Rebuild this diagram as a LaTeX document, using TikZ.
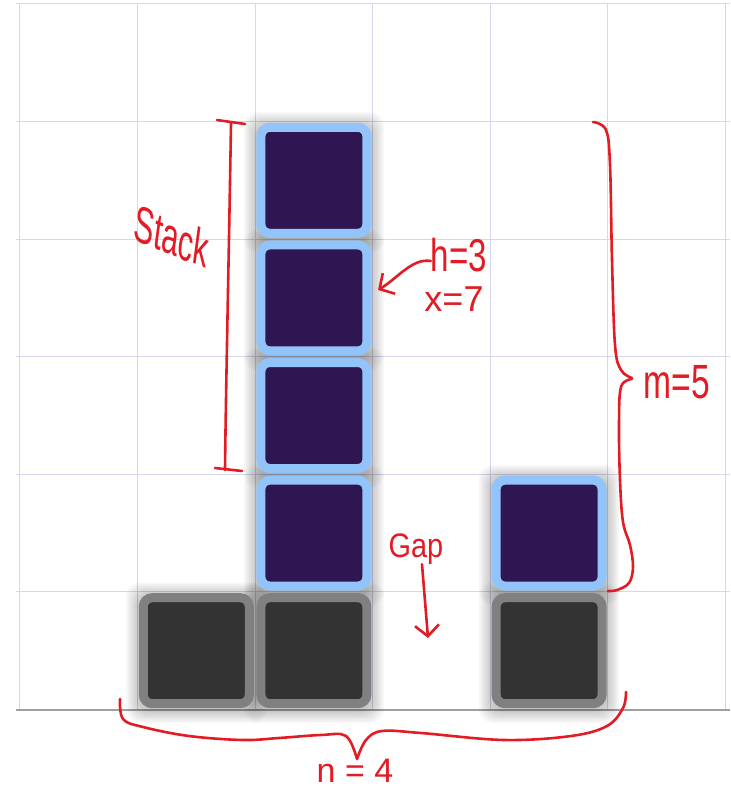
\documentclass[tikz,border=0pt]{standalone}
\usepackage{fontspec}
\setmainfont{Liberation Sans}
\usetikzlibrary{arrows.meta,backgrounds}
\definecolor{gridc}{RGB}{214,214,236}
\definecolor{groundc}{RGB}{160,160,160}
\definecolor{blueB}{RGB}{146,196,250}
\definecolor{purp}{RGB}{47,22,83}
\definecolor{grayB}{RGB}{128,128,128}
\definecolor{grayF}{RGB}{51,51,51}
\definecolor{pen}{RGB}{226,28,36}
\tikzset{
  blk/.style={rectangle, minimum size=106pt, inner sep=0pt, line width=9pt, rounded corners=9pt},
  blueblk/.style={blk, draw=blueB, fill=purp},
  grayblk/.style={blk, draw=grayB, fill=grayF},
  penline/.style={draw=pen, line width=2.6pt, line cap=round, line join=round},
  hand/.style={text=pen, inner sep=0pt},
  gridline/.style={draw=gridc, line width=0.9pt},
  shadowlayer/.style={fill=black, fill opacity=0.032, rounded corners=14pt},
  barb/.style={-{Straight Barb[length=11pt,width=24pt]}}
}
\begin{document}
\begin{tikzpicture}[x=1pt,y=-1pt]
\useasboundingbox (0,0) rectangle (730,791);

% blocks
\node[grayblk] (g1) at (196.3,650.7) {};
\node[grayblk] (g2) at (313.9,650.7) {};
\node[grayblk] (g4) at (549.1,650.7) {};
\node[blueblk] (s1) at (313.9,533.1) {};
\node[blueblk] (s2) at (313.9,415.5) {};
\node[blueblk] (s3) at (313.9,297.9) {};
\node[blueblk] (s4) at (313.9,180.3) {};
\node[blueblk] (r1) at (549.1,533.1) {};

\begin{pgfonlayer}{background}
  \fill[white] (0,0) rectangle (730,791);
  \foreach \x in {19.9,137.5,255.1,372.7,490.3,607.9,725.5}
    \draw[gridline] (\x,3.9) -- (\x,709.5);
  \foreach \y in {3.9,121.5,239.1,356.7,474.3,591.9}
    \draw[gridline] (16,\y) -- (730,\y);
  \draw[groundc, line width=2pt] (16,709.5) -- (730,709.5);
  \foreach \b in {g1,g2,g4,s1,s2,s3,s4,r1}{
    \foreach \i in {1,...,7}{
      \fill[shadowlayer]
        ([shift={(-\i*1.8pt,-\i*1.8pt-2pt)}]\b.south west) rectangle
        ([shift={(\i*1.8pt,\i*1.8pt-2pt)}]\b.north east);
    }
  }
\end{pgfonlayer}

% Stack bracket
\draw[penline] (217,120) -- (245,124);
\draw[penline] (231,123) .. controls (229,250) and (226,380) .. (225,470);
\draw[penline] (215,468) -- (242,471);
\node[hand, font=\fontsize{52}{52}\selectfont, xscale=0.58, rotate=-13] (stack) at (172,236) {Stack};

% h=3, x=7 labels and arrow
\node[hand, font=\fontsize{46}{46}\selectfont, xscale=0.72] (hlab) at (459,255) {h=3};
\node[hand, font=\fontsize{36}{36}\selectfont] (xlab) at (454,299) {x=7};
\coordinate (htip) at (378,290);
\draw[penline, barb] ([yshift=-6pt]hlab.west) .. controls (412,258) and (398,278) .. (htip);

% m=5 brace
\draw[penline] plot[smooth, tension=0.6] coordinates {(593,122) (606,130) (610,165) (612,260) (615,345) (621,370) (632,378)};
\draw[penline] plot[smooth, tension=0.6] coordinates {(632,379) (621,387) (619,425) (620,480) (623,522) (630,545) (633,567) (629,583) (617,590) (608,591)};
\node[hand, font=\fontsize{48}{48}\selectfont, xscale=0.7] (mlab) at (677,382) {m=5};

% Gap
\node[hand, font=\fontsize{34}{34}\selectfont, xscale=0.85, anchor=base] (gap) at (416,557) {Gap};
\coordinate (gtip) at (428,638);
\draw[penline, barb] ([xshift=6pt]gap.south) .. controls (425,600) .. (gtip);

% n=4 brace
\draw[penline] plot[smooth, tension=0.6] coordinates {(120,699) (123,719) (143,727) (189,736) (243,740) (279,738) (321,735) (346,736) (357,759)};
\draw[penline] plot[smooth, tension=0.6] coordinates {(357,759) (366,740) (382,731) (421,733) (504,740) (571,736) (607,726) (623,708) (626,692)};
\node[hand, font=\fontsize{34}{34}\selectfont, anchor=base] (nlab) at (355,782) {n = 4};
\end{tikzpicture}
\end{document}
